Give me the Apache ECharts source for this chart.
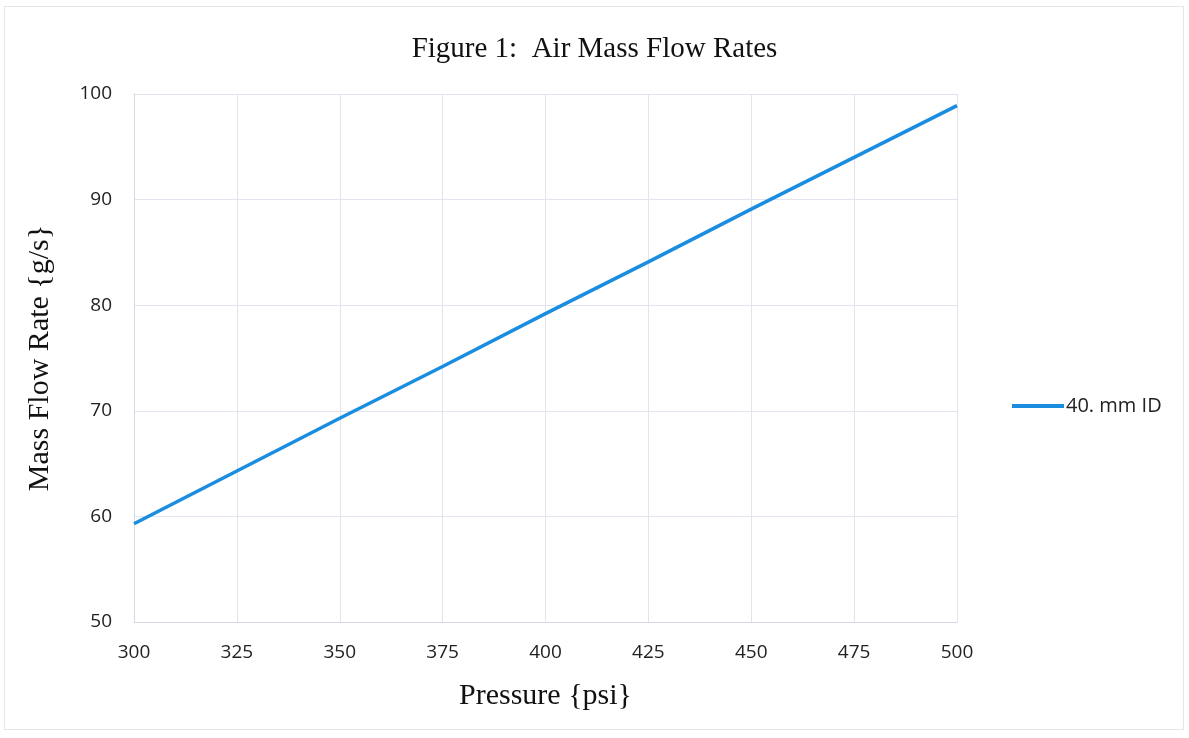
<!DOCTYPE html>
<html><head><meta charset="utf-8">
<script src="https://cdn.jsdelivr.net/npm/echarts@6/dist/echarts.min.js"></script>
<style>html,body{margin:0;padding:0;background:#fff}#c{width:1189px;height:738px}
#frame{position:absolute;left:4px;top:6px;width:1180px;height:724px;border:1px solid #e6e6e6;box-sizing:border-box;pointer-events:none}</style>
</head><body><div id="c"></div><div id="frame"></div>
<script>
const pressures = [300, 325, 350, 375, 400, 425, 450, 475, 500];
const flow40mm = [59.3, 64.3, 69.3, 74.2, 79.2, 84.1, 89.1, 94.0, 98.9];
const seriesName = '40. mm ID';
const titleText = 'Figure 1:  Air Mass Flow Rates';
const xName = 'Pressure {psi}';
const yName = 'Mass Flow Rate {g/s}';

const chart = echarts.init(document.getElementById('c'));
chart.setOption({
  backgroundColor: '#fff',
  animation: false,
  title: {text: titleText, left: 'center', top: 30,
    textStyle: {fontFamily: 'Liberation Serif', fontSize: 29, fontWeight: 'normal', color: '#111'}},
  legend: {data: [seriesName], left: 1007, top: 391, orient: 'vertical',
    itemWidth: 52, itemHeight: 4, itemGap: 4, icon: 'rect',
    textStyle: {fontFamily: 'Open Sans', fontSize: 20, color: '#222', padding: [0, 0, 0, -3]}},
  grid: {left: 134, right: 232, top: 94, bottom: 116, containLabel: false},
  xAxis: {type: 'value', min: 300, max: 500, interval: 25,
    name: xName, nameLocation: 'middle', nameGap: 59,
    nameTextStyle: {fontFamily: 'Liberation Serif', fontSize: 30, color: '#111'},
    axisLine: {show: true, lineStyle: {color: '#d6d8e4'}}, axisTick: {show: false},
    axisLabel: {fontFamily: 'Open Sans', fontSize: 19, color: '#222', margin: 21},
    splitLine: {show: true, lineStyle: {color: '#e2e4ee', width: 1}}},
  yAxis: {type: 'value', min: 50, max: 100, interval: 10,
    name: yName, nameLocation: 'middle', nameGap: 79,
    nameTextStyle: {fontFamily: 'Liberation Serif', fontSize: 30, color: '#111'},
    axisLine: {show: true, lineStyle: {color: '#d6d8e4'}}, axisTick: {show: false},
    axisLabel: {fontFamily: 'Open Sans', fontSize: 19, color: '#222', margin: 22},
    splitLine: {show: true, lineStyle: {color: '#e2e4ee', width: 1}}},
  series: [{name: seriesName, type: 'line', showSymbol: false,
    data: pressures.map((p, i) => [p, flow40mm[i]]),
    lineStyle: {color: '#1a8de0', width: 3.5}, itemStyle: {color: '#1a8de0'}}]
});
</script></body></html>
